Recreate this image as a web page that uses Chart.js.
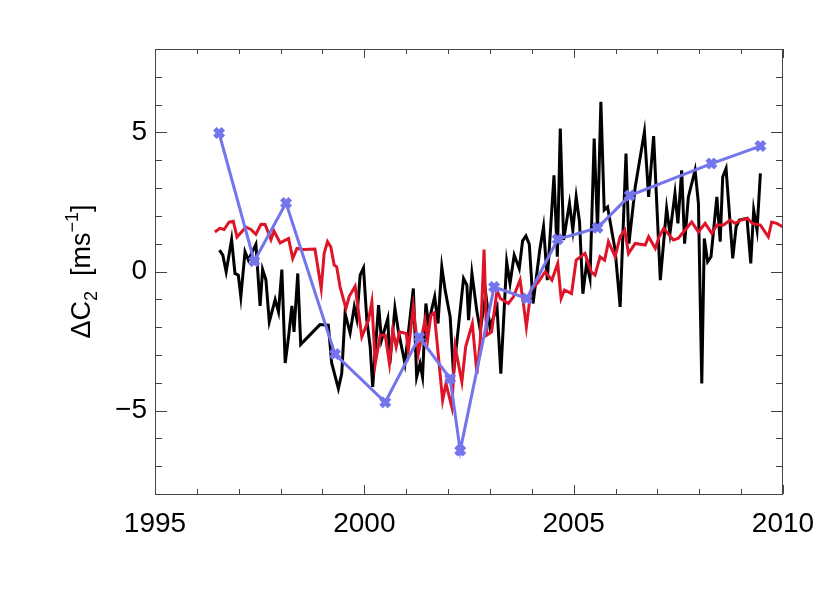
<!DOCTYPE html>
<html>
<head>
<meta charset="utf-8">
<script src="https://cdn.jsdelivr.net/npm/chart.js@4/dist/chart.umd.min.js"></script>
<style>
  body { margin: 0; background: #fff; }
  canvas { display: block; }
</style>
</head>
<body>
<canvas id="myChart" width="830" height="593"></canvas>
<script>
// black series (years, values)
var blackT = [1996.54,1996.62,1996.70,1996.83,1996.91,1996.99,1997.05,1997.15,1997.23,1997.41,1997.51,1997.57,1997.65,1997.73,1997.87,1997.95,
  1998.03,1998.11,1998.19,1998.27,1998.32,1998.41,1998.48,1998.94,1999.14,1999.22,1999.38,1999.46,1999.54,1999.66,1999.76,1999.82,1999.90,1999.98,
  2000.06,2000.14,2000.20,2000.34,2000.41,2000.56,2000.61,2000.73,2000.81,2000.97,2001.17,2001.25,2001.33,2001.39,2001.47,2001.53,2001.68,2001.76,
  2001.85,2001.93,2002.05,2002.13,2002.37,2002.45,2002.49,2002.57,2002.69,2002.77,2002.90,2003.00,2003.17,2003.26,2003.40,2003.48,2003.58,2003.70,
  2003.78,2003.86,2003.94,2004.03,2004.19,2004.28,2004.37,2004.53,2004.61,2004.68,2004.76,2004.90,2004.98,2005.06,2005.14,2005.22,2005.31,2005.39,
  2005.49,2005.57,2005.65,2005.73,2005.81,2005.99,2006.11,2006.25,2006.32,2006.47,2006.69,2006.79,2006.91,2007.07,2007.22,2007.30,2007.42,2007.49,
  2007.58,2007.65,2007.74,2007.90,2007.98,2008.06,2008.12,2008.20,2008.28,2008.42,2008.50,2008.56,2008.64,2008.80,2008.88,2008.96,2009.14,2009.23,
  2009.30,2009.38,2009.46];
var blackV = [0.77,0.59,-0.01,1.15,-0.07,-0.13,-0.91,0.71,0.41,0.98,-1.24,0.07,-0.31,-1.81,-1.01,-1.45,
  0.07,-3.29,-2.35,-1.24,-2.17,-0.07,-2.62,-1.91,-1.93,-3.29,-4.21,-3.67,-1.51,-2.21,-1.27,-1.69,-0.13,0.13,
  -1.75,-2.71,-4.15,-1.21,-2.47,-1.69,-3.31,-1.31,-2.11,-3.31,-0.61,-3.79,-3.31,-3.79,-1.15,-1.87,-0.91,-1.87,
  0.17,-0.67,-1.63,-3.67,-0.25,-0.49,-1.75,-0.07,-1.45,-2.11,-0.80,-2.00,-1.30,-3.67,0.35,-0.43,0.59,0.10,
  1.10,1.28,0.98,-1.15,0.77,1.61,-0.31,3.46,0.53,5.14,1.13,2.45,1.49,2.68,1.78,-0.80,0.30,-0.25,
  4.78,1.49,6.10,2.21,2.32,0.77,-1.27,4.24,1.00,3.04,5.02,2.68,4.87,-0.31,2.27,1.37,2.81,1.73,
  3.64,1.00,2.68,3.64,2.45,-4.03,1.19,0.35,0.53,2.68,1.07,3.40,3.70,0.47,1.61,1.85,1.91,0.29,
  2.21,1.49,3.53];

// red series
var redT = [1996.43,1996.55,1996.65,1996.77,1996.87,1996.96,1997.17,1997.29,1997.41,1997.53,1997.63,1997.77,1997.84,1997.99,1998.19,1998.29,
  1998.39,1998.55,1998.82,1998.97,1999.04,1999.12,1999.20,1999.28,1999.34,1999.42,1999.56,1999.64,1999.78,1999.94,2000.02,2000.10,2000.18,
  2000.26,2000.38,2000.50,2000.60,2000.68,2000.76,2000.84,2001.00,2001.05,2001.17,2001.29,2001.45,2001.51,2001.59,2001.67,2001.87,2001.95,
  2002.09,2002.17,2002.33,2002.42,2002.58,2002.69,2002.77,2002.86,2002.92,2003.04,2003.17,2003.25,2003.44,2003.56,2003.72,2003.80,2003.87,
  2003.98,2004.16,2004.24,2004.32,2004.48,2004.62,2004.70,2004.78,2004.95,2005.06,2005.27,2005.42,2005.51,2005.63,2005.74,2005.83,2005.99,
  2006.11,2006.22,2006.31,2006.47,2006.71,2006.79,2006.95,2007.04,2007.15,2007.38,2007.50,2007.66,2007.82,2007.98,2008.14,2008.30,2008.42,
  2008.58,2008.74,2008.86,2009.00,2009.15,2009.27,2009.46,2009.65,2009.73,2009.85,2010.00];
var redV = [1.42,1.55,1.51,1.78,1.81,1.24,1.60,1.51,1.34,1.70,1.69,1.15,1.46,1.03,1.19,0.47,
  0.83,0.79,0.81,-0.61,0.65,1.07,0.88,0.23,0.17,-0.55,-1.33,-0.89,-0.53,-2.35,-2.05,-1.75,-1.09,
  -3.31,-2.29,-2.29,-3.31,-2.11,-2.71,-2.17,-2.23,-2.83,-1.27,-2.95,-1.75,-2.47,-1.57,-1.49,-4.63,-4.03,
  -4.87,-2.71,-3.97,-2.71,-1.87,-3.67,-2.47,0.79,-2.29,-2.17,-0.67,-0.97,-1.15,-0.91,-0.31,-1.15,-1.99,
  -0.67,-0.37,-0.19,-0.01,-0.31,0.29,-0.97,-0.67,-0.79,0.41,0.65,-0.01,-0.13,0.53,0.41,1.07,0.53,
  1.25,1.49,0.65,1.01,0.95,1.25,0.83,1.25,1.55,1.13,1.20,1.49,1.78,1.42,1.73,1.37,1.67,
  1.67,1.85,1.73,1.85,1.91,1.73,1.67,1.25,1.78,1.73,1.60];

// blue series with markers
var blueT = [1996.53,1997.37,1998.13,1999.30,2000.50,2001.31,2002.05,2002.29,2003.10,2003.88,2004.62,2005.57,2006.34,2008.29,2009.46];
var blueV = [4.98,0.37,2.46,-2.97,-4.70,-2.36,-3.85,-6.44,-0.56,-0.97,1.16,1.57,2.73,3.88,4.51];

var xMin = 1995, xMax = 2010;
var yMin = -8, yMax = 8;
var yLabels = [-5, 0, 5];

function pairs(t, v) {
  return t.map(function (x, i) { return { x: x, y: v[i] }; });
}

var FONT = "'Liberation Sans', Arial, sans-serif";

// frame with inward ticks on all four sides + y title
var framePlugin = {
  id: "frame",
  afterDraw: function (chart) {
    var ctx = chart.ctx, a = chart.chartArea;
    var xs = chart.scales.x, ys = chart.scales.y;
    ctx.save();
    ctx.strokeStyle = "#444";
    ctx.lineWidth = 1;
    ctx.strokeRect(a.left + 0.5, a.top + 0.5, a.right - a.left - 1, a.bottom - a.top);
    ctx.beginPath();
    for (var yr = xMin; yr <= xMax; yr++) {
      var px = Math.round(xs.getPixelForValue(yr)) + 0.5;
      var len = (yr % 5 === 0) ? 9 : 5;
      ctx.moveTo(px, a.bottom); ctx.lineTo(px, a.bottom - len);
      ctx.moveTo(px, a.top); ctx.lineTo(px, a.top + len);
    }
    for (var v = yMin; v <= yMax; v++) {
      var py = Math.round(ys.getPixelForValue(v)) + 0.5;
      var l2 = (v % 5 === 0) ? 12 : 7;
      ctx.moveTo(a.left, py); ctx.lineTo(a.left + l2, py);
      ctx.moveTo(a.right, py); ctx.lineTo(a.right - l2, py);
    }
    ctx.stroke();

    // y title: ΔC2 [ms-1] with sub/superscript
    var parts = [
      { t: "\u0394C", f: 27, dy: 0 },
      { t: "2", f: 18, dy: 7 },
      { t: "  [ms", f: 27, dy: 0 },
      { t: "\u22121", f: 18, dy: -12 },
      { t: "]", f: 27, dy: 0 }
    ];
    var w = 0;
    parts.forEach(function (p) {
      ctx.font = p.f + "px " + FONT;
      p.w = ctx.measureText(p.t).width;
      w += p.w;
    });
    ctx.translate(90, (a.top + a.bottom) / 2);
    ctx.rotate(-Math.PI / 2);
    ctx.fillStyle = "#000";
    ctx.textBaseline = "alphabetic";
    var x0 = -w / 2;
    parts.forEach(function (p) {
      ctx.font = p.f + "px " + FONT;
      ctx.fillText(p.t, x0, p.dy);
      x0 += p.w;
    });
    ctx.restore();
  }
};

var chart = new Chart(document.getElementById("myChart").getContext("2d"), {
  type: "line",
  data: {
    datasets: [
      {
        label: "blue",
        data: pairs(blueT, blueV),
        borderColor: "#7474ec",
        backgroundColor: "#7474ec",
        borderWidth: 3,
        pointStyle: "crossRot",
        pointRadius: 6,
        pointBorderWidth: 5,
        pointBorderColor: "#7474ec",
        tension: 0,
        order: 0
      },
      {
        label: "red",
        data: pairs(redT, redV),
        borderColor: "#de1428",
        borderWidth: 3,
        pointRadius: 0,
        tension: 0,
        order: 1
      },
      {
        label: "black",
        data: pairs(blackT, blackV),
        borderColor: "#000",
        borderWidth: 3,
        pointRadius: 0,
        tension: 0,
        order: 2
      }
    ]
  },
  options: {
    responsive: false,
    animation: false,
    devicePixelRatio: 1,
    layout: { padding: { top: 49, right: 47, left: 0, bottom: 0 } },
    plugins: { legend: { display: false }, tooltip: { enabled: false } },
    scales: {
      x: {
        type: "linear",
        min: xMin, max: xMax,
        grid: { display: false, drawTicks: false },
        border: { display: false },
        ticks: {
          stepSize: 5,
          padding: 13,
          color: "#000",
          maxRotation: 0,
          font: { size: 28, family: FONT },
          callback: function (v) { return String(v); }
        },
        afterFit: function (s) { s.height = 99; }
      },
      y: {
        type: "linear",
        min: yMin, max: yMax,
        grid: { display: false, drawTicks: false },
        border: { display: false },
        afterBuildTicks: function (s) {
          s.ticks = yLabels.map(function (v) { return { value: v }; });
        },
        ticks: {
          padding: 8,
          color: "#000",
          font: { size: 28, family: FONT },
          callback: function (v) { return v === 0 ? "0" : String(v).replace("-", "\u2212"); }
        },
        afterFit: function (s) { s.width = 155; }
      }
    }
  },
  plugins: [framePlugin]
});
</script>
</body>
</html>
